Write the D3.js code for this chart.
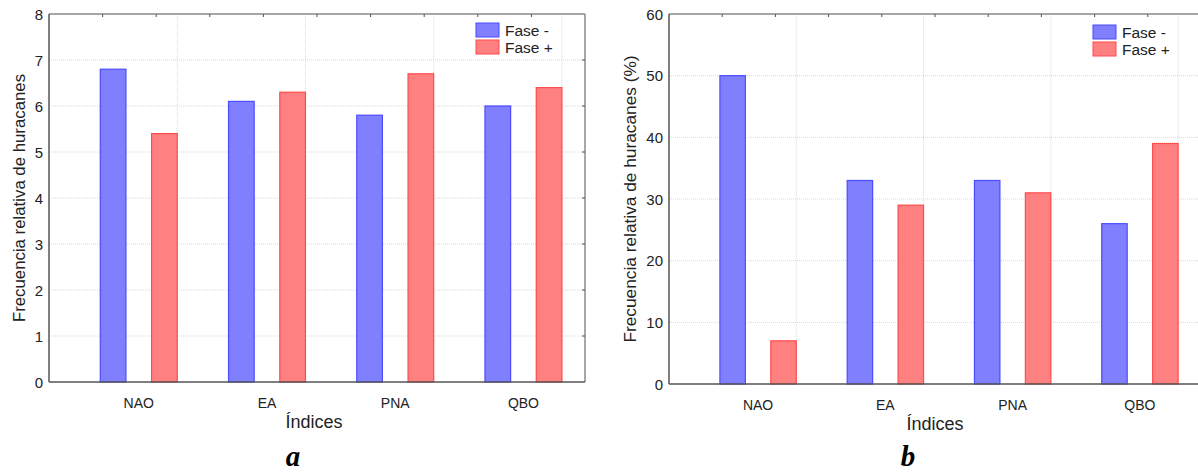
<!DOCTYPE html>
<html>
<head>
<meta charset="utf-8">
<script src="https://cdn.jsdelivr.net/npm/d3@7"></script>
<style>
  body { margin: 0; background: #fff; }
  svg { display: block; font-family: "Liberation Sans", Arial, sans-serif; }
</style>
</head>
<body>
<svg id="chart" width="1198" height="474"></svg>
<script>
var categories = ["NAO", "EA", "PNA", "QBO"];
var seriesNames = ["Fase -", "Fase +"];
var countNeg = [6.8, 6.1, 5.8, 6.0];
var countPos = [5.4, 6.3, 6.7, 6.4];
var pctNeg = [50, 33, 33, 26];
var pctPos = [7, 29, 31, 39];
var countTicks = [0, 1, 2, 3, 4, 5, 6, 7, 8];
var pctTicks = [0, 10, 20, 30, 40, 50, 60];

var fills = ["#8080ff", "#ff8080"];
var strokes = ["#4b4bff", "#ff4b4b"];

var svg = d3.select("#chart");

var panels = [
    { left: 49, right: 585, top: 14, bottom: 382, max: 8, ticks: countTicks,
      neg: countNeg, pos: countPos, ylabel: "Frecuencia relativa de huracanes", ylabelSize: 16.8,
      ylabelX: 19, letter: "a", letterX: 293, titleX: 314, legendX: 476, legendY: 23, tickRight: 43 },
    { left: 669, right: 1201, top: 14, bottom: 384, max: 60, ticks: pctTicks,
      neg: pctNeg, pos: pctPos, ylabel: "Frecuencia relativa de huracanes (%)", ylabelSize: 17.3,
      ylabelX: 630, letter: "b", letterX: 908, titleX: 935, legendX: 1093, legendY: 25, tickRight: 663 }
];

panels.forEach(function (p) {
    var g = svg.append("g");

    var x = d3.scaleLinear().domain([-0.7, 3.48]).range([p.left, p.right]);
    var y = d3.scaleLinear().domain([0, p.max]).range([p.bottom, p.top]);

    // horizontal grid
    g.selectAll(".hgrid")
        .data(p.ticks.slice(1, -1))
        .enter()
        .append("line")
        .attr("x1", p.left).attr("x2", p.right)
        .attr("y1", function (d) { return y(d); })
        .attr("y2", function (d) { return y(d); })
        .attr("stroke", "#d8d8d8")
        .attr("stroke-dasharray", "1,1");

    // vertical grid at category boundaries
    g.selectAll(".vgrid")
        .data(categories)
        .enter()
        .append("line")
        .attr("x1", function (d, i) { return x(i + 0.3); })
        .attr("x2", function (d, i) { return x(i + 0.3); })
        .attr("y1", p.top).attr("y2", p.bottom)
        .attr("stroke", "#d8d8d8")
        .attr("stroke-dasharray", "1,1");

    // bars
    [p.neg, p.pos].forEach(function (vals, s) {
        g.selectAll(".bar" + s)
            .data(vals)
            .enter()
            .append("rect")
            .attr("x", function (d, i) { return x(i + (s === 0 ? -0.3 : 0.1)); })
            .attr("width", function (d, i) { return x(i + 0.2) - x(i); })
            .attr("y", function (d) { return y(d); })
            .attr("height", function (d) { return y(0) - y(d); })
            .attr("fill", fills[s])
            .attr("stroke", strokes[s])
            .attr("stroke-width", 1.2);
    });

    // frame: top and right light, left and bottom darker
    g.append("line").attr("x1", p.left).attr("x2", p.right).attr("y1", p.top).attr("y2", p.top)
        .attr("stroke", "#8a8a8a").attr("stroke-width", 1.5);
    g.append("line").attr("x1", p.right).attr("x2", p.right).attr("y1", p.top).attr("y2", p.bottom)
        .attr("stroke", "#8a8a8a").attr("stroke-width", 1.5);
    g.append("line").attr("x1", p.left).attr("x2", p.left).attr("y1", p.top).attr("y2", p.bottom)
        .attr("stroke", "#555").attr("stroke-width", 1.5);
    g.append("line").attr("x1", p.left).attr("x2", p.right).attr("y1", p.bottom).attr("y2", p.bottom)
        .attr("stroke", "#555").attr("stroke-width", 1.5);

    // small inward ticks on top and right
    var topTicks = d3.range(1, 10).map(function (k) { return p.left + (p.right - p.left) * k / 10; });
    g.selectAll(".ttick")
        .data(topTicks)
        .enter()
        .append("line")
        .attr("x1", function (d) { return d; }).attr("x2", function (d) { return d; })
        .attr("y1", p.top).attr("y2", p.top + 3)
        .attr("stroke", "#555");
    g.selectAll(".rtick")
        .data(p.ticks.slice(1, -1))
        .enter()
        .append("line")
        .attr("x1", p.right).attr("x2", p.right - 3)
        .attr("y1", function (d) { return y(d); })
        .attr("y2", function (d) { return y(d); })
        .attr("stroke", "#555");

    // y tick labels
    g.selectAll(".ylab")
        .data(p.ticks)
        .enter()
        .append("text")
        .attr("x", p.tickRight)
        .attr("y", function (d) { return y(d) + 5.5; })
        .attr("text-anchor", "end")
        .attr("font-size", 15)
        .attr("fill", "#222")
        .text(function (d) { return d; });

    // category labels
    g.selectAll(".xlab")
        .data(categories)
        .enter()
        .append("text")
        .attr("x", function (d, i) { return x(i); })
        .attr("y", p.bottom + 26)
        .attr("text-anchor", "middle")
        .attr("font-size", 14)
        .attr("fill", "#222")
        .text(function (d) { return d; });

    // axis titles
    g.append("text")
        .attr("x", p.titleX)
        .attr("y", p.bottom + 46)
        .attr("text-anchor", "middle")
        .attr("font-size", 18)
        .attr("fill", "#222")
        .text("Índices");

    g.append("text")
        .attr("transform", "translate(" + p.ylabelX + "," + ((p.top + p.bottom) / 2) + ") rotate(-90)")
        .attr("text-anchor", "middle")
        .attr("dy", "0.35em")
        .attr("font-size", p.ylabelSize)
        .attr("fill", "#222")
        .text(p.ylabel);

    // panel letter
    g.append("text")
        .attr("x", p.letterX)
        .attr("y", 466)
        .attr("text-anchor", "middle")
        .attr("font-family", "'Liberation Serif', 'Times New Roman', serif")
        .attr("font-weight", "bold")
        .attr("font-style", "italic")
        .attr("font-size", 29)
        .attr("fill", "#000")
        .text(p.letter);

    // legend
    seriesNames.forEach(function (name, s) {
        g.append("rect")
            .attr("x", p.legendX)
            .attr("y", p.legendY + s * 17)
            .attr("width", 23)
            .attr("height", 14)
            .attr("fill", fills[s])
            .attr("stroke", strokes[s])
            .attr("stroke-width", 1);
        g.append("text")
            .attr("x", p.legendX + 29)
            .attr("y", p.legendY + s * 17 + 12.5)
            .attr("font-size", 15.5)
            .attr("fill", "#222")
            .text(name);
    });
});
</script>
</body>
</html>
